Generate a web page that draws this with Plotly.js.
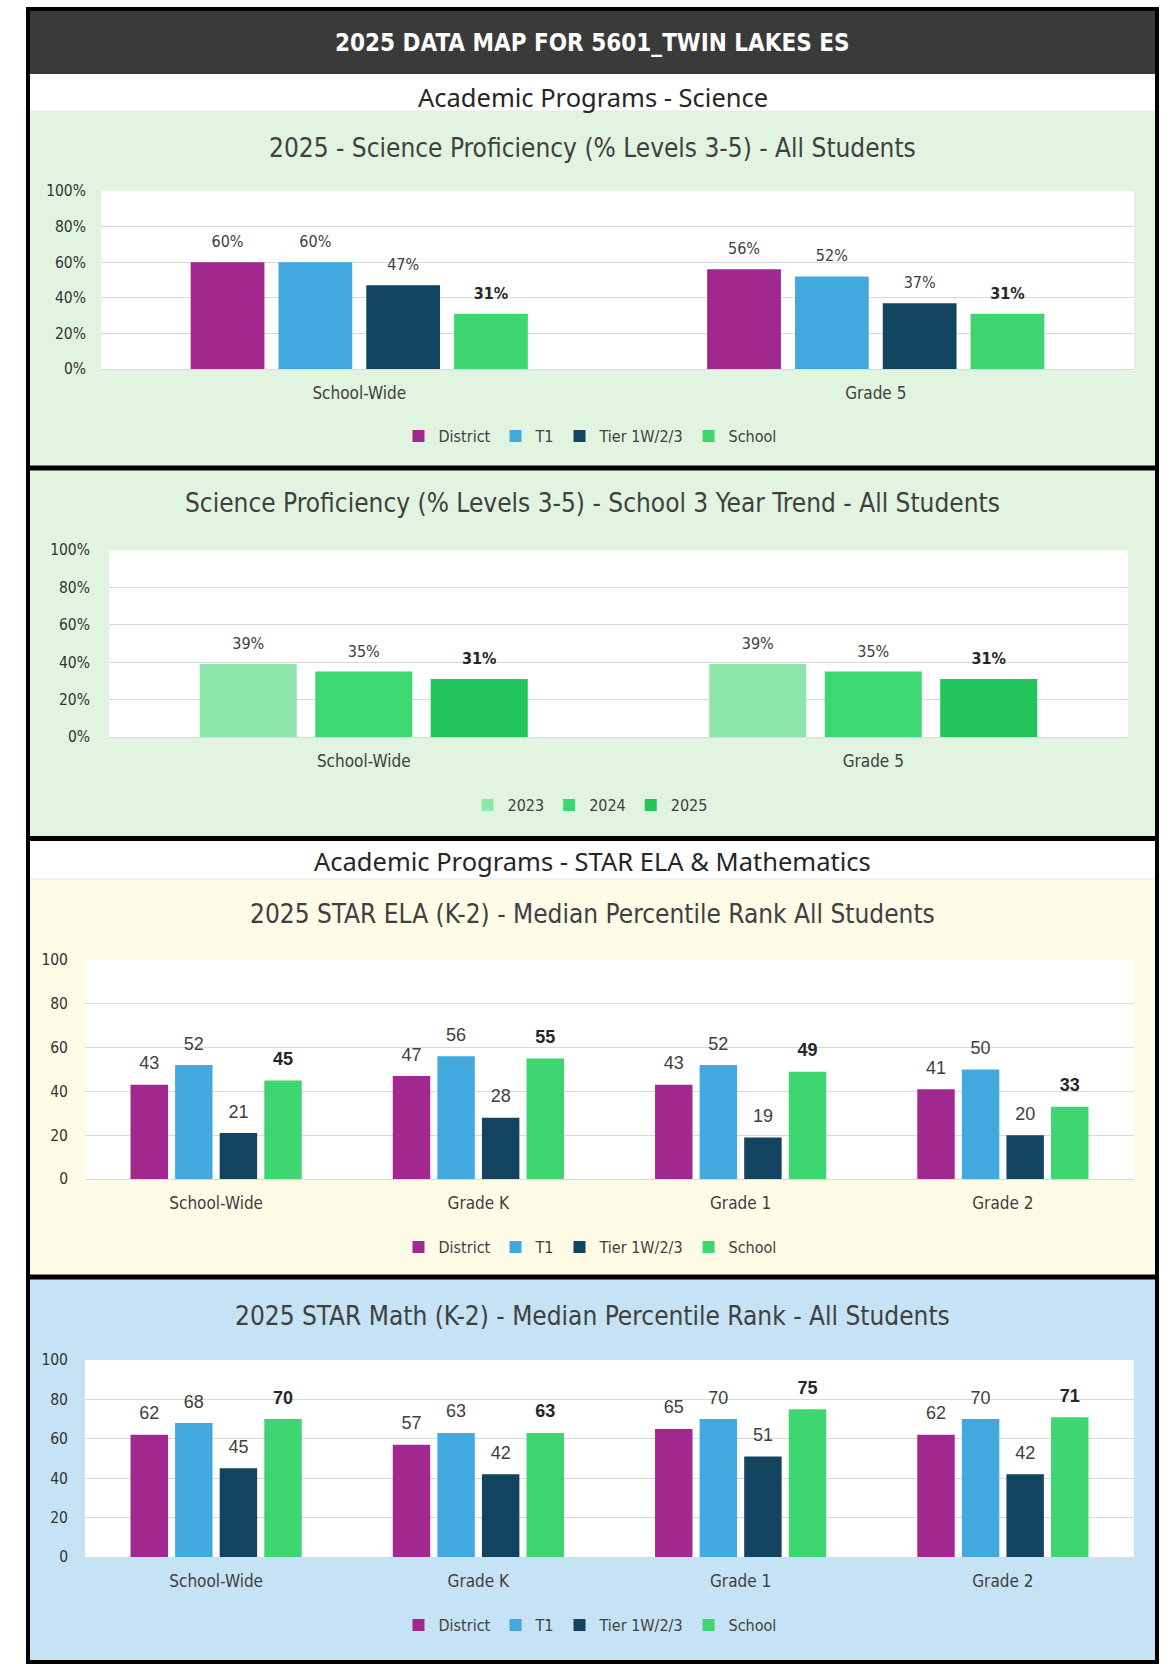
<!DOCTYPE html>
<html>
<head>
<meta charset="utf-8">
<script src="https://cdn.plot.ly/plotly-3.0.1.min.js"></script>
<style>
  html, body { margin: 0; padding: 0; background: #ffffff; }
  #chart { width: 1173px; height: 1664px; }
</style>
</head>
<body>
<div id="chart"></div>
<script>
// ---------------- DATA ----------------
const seriesNames = ['District', 'T1', 'Tier 1W/2/3', 'School'];
const yearNames = ['2023', '2024', '2025'];

const sciCategories = ['School-Wide', 'Grade 5'];
const sciDistrict = [60, 56];
const sciT1 = [60, 52];
const sciTier = [47, 37];
const sciSchool = [31, 31];

const trendCategories = ['School-Wide', 'Grade 5'];
const trend2023 = [39, 39];
const trend2024 = [35, 35];
const trend2025 = [31, 31];

const starCategories = ['School-Wide', 'Grade K', 'Grade 1', 'Grade 2'];
const elaDistrict = [43, 47, 43, 41];
const elaT1 = [52, 56, 52, 50];
const elaTier = [21, 28, 19, 20];
const elaSchool = [45, 55, 49, 33];

const mathDistrict = [62, 57, 65, 62];
const mathT1 = [68, 63, 70, 70];
const mathTier = [45, 42, 51, 42];
const mathSchool = [70, 63, 75, 71];

const tickValues = [0, 20, 40, 60, 80, 100];
const pctTickLabels = ['0%', '20%', '40%', '60%', '80%', '100%'];
const numTickLabels = ['0', '20', '40', '60', '80', '100'];

// ---------------- STYLE ----------------
const W = 1173, H = 1664;
const NARROW = '"Liberation Sans Narrow", "DejaVu Sans Condensed", "Arial Narrow", sans-serif';
const ARIAL = '"Liberation Sans", Arial, sans-serif';
const HEAD = '"Noto Sans", "Open Sans", sans-serif';
const seriesColors = ['#A0288F', '#41A9DD', '#13445F', '#3DD670'];
const yearColors = ['#8FE6AB', '#3ED872', '#22C55A'];
const TXT = '#404040';
const BAR_GAP = 0.32;

const px = x => x / W;
const py = y => 1 - y / H;

function axisIds(axisNum) {
  const s = axisNum === 1 ? '' : String(axisNum);
  return { xaxis: 'x' + s, yaxis: 'y' + s };
}

function barTrace(name, cats, vals, color, axisNum, legendId) {
  return Object.assign({
    type: 'bar', name: name, x: cats, y: vals, legend: legendId,
    marker: { color: color }, textposition: 'none', hoverinfo: 'x+y+name'
  }, axisIds(axisNum));
}

// value labels, grouped like the bars so they sit over each bar
function labelTrace(name, cats, vals, axisNum, pct, bold, fontFam, size) {
  return Object.assign({
    type: 'scatter', mode: 'markers+text', name: name + ' label', x: cats, y: vals,
    orientation: 'v', showlegend: false, hoverinfo: 'skip', cliponaxis: false,
    text: vals.map(v => pct ? v + '%' : String(v)),
    textposition: 'top center',
    marker: { size: 16, color: 'rgba(0,0,0,0)', line: { width: 0 } },
    textfont: { family: fontFam, size: size, color: bold ? '#262626' : '#404040', weight: bold ? 'bold' : 'normal' }
  }, axisIds(axisNum));
}

const traces = [];
const labels = [];
const sciVals = [sciDistrict, sciT1, sciTier, sciSchool];
seriesNames.forEach((n, i) => {
  traces.push(barTrace(n, sciCategories, sciVals[i], seriesColors[i], 1, 'legend'));
  labels.push(labelTrace(n, sciCategories, sciVals[i], 1, true, i === 3, NARROW, 16));
});
const trendVals = [trend2023, trend2024, trend2025];
yearNames.forEach((n, i) => {
  traces.push(barTrace(n, trendCategories, trendVals[i], yearColors[i], 2, 'legend2'));
  labels.push(labelTrace(n, trendCategories, trendVals[i], 2, true, i === 2, NARROW, 16));
});
const elaVals = [elaDistrict, elaT1, elaTier, elaSchool];
seriesNames.forEach((n, i) => {
  traces.push(barTrace(n, starCategories, elaVals[i], seriesColors[i], 3, 'legend3'));
  labels.push(labelTrace(n, starCategories, elaVals[i], 3, false, i === 3, ARIAL, 18));
});
const mathVals = [mathDistrict, mathT1, mathTier, mathSchool];
seriesNames.forEach((n, i) => {
  traces.push(barTrace(n, starCategories, mathVals[i], seriesColors[i], 4, 'legend4'));
  labels.push(labelTrace(n, starCategories, mathVals[i], 4, false, i === 3, ARIAL, 18));
});

function xAxis(x0, x1, anchor) {
  return {
    domain: [px(x0), px(x1)], anchor: anchor,
    type: 'category', showgrid: false, zeroline: false, showline: false,
    ticks: '', ticklabelstandoff: 12,
    tickfont: { family: NARROW, size: 17, color: TXT },
    fixedrange: true
  };
}
function yAxis(yTop, yBot, anchor, labelsArr, standoff) {
  return {
    domain: [py(yBot), py(yTop)], anchor: anchor,
    range: [0, 100], tickmode: 'array', tickvals: tickValues, ticktext: labelsArr,
    showgrid: true, gridcolor: '#D9D9D9', gridwidth: 1,
    zeroline: true, zerolinecolor: '#D9D9D9', zerolinewidth: 1,
    showline: false, ticks: '', ticklabelstandoff: standoff,
    tickfont: { family: NARROW, size: 15.5, color: '#333333' },
    fixedrange: true
  };
}

function rect(x0, y0, x1, y1, fill) {
  return { type: 'rect', xref: 'paper', yref: 'paper', x0: px(x0), x1: px(x1), y0: py(y1), y1: py(y0),
    fillcolor: fill, line: { width: 0 }, layer: 'below' };
}
function hline(y, w, color) {
  return { type: 'line', xref: 'paper', yref: 'paper', x0: px(28), x1: px(1157), y0: py(y), y1: py(y),
    line: { color: color || '#000000', width: w }, layer: 'above' };
}

const shapes = [
  rect(28, 9, 1157, 74, '#3A3A3A'),
  rect(28, 74, 1157, 111, '#FFFFFF'),
  rect(28, 111, 1157, 468, '#E0F4E0'),
  rect(28, 468, 1157, 838, '#E0F4E0'),
  rect(28, 838, 1157, 879, '#FFFFFF'),
  rect(28, 879, 1157, 1277, '#FEFCE6'),
  rect(28, 1277, 1157, 1662, '#C6E3F5'),
  // plot area backgrounds
  rect(101, 191, 1134, 369, '#FFFFFF'),
  rect(109, 550, 1128, 737, '#FFFFFF'),
  rect(85, 960, 1134, 1179, '#FFFFFF'),
  rect(85, 1360, 1134, 1557, '#FFFFFF'),
  hline(111, 1, '#E6E6E6'), hline(879, 1, '#E6E6E6'),
  hline(468, 5), hline(838.5, 5), hline(1277, 5),
  { type: 'rect', xref: 'paper', yref: 'paper', x0: px(28), x1: px(1157), y0: py(1662), y1: py(9),
    line: { color: '#000000', width: 4 }, fillcolor: 'rgba(0,0,0,0)', layer: 'above' }
];

function ann(text, x, y, size, fam, color, bold) {
  return { text: text, xref: 'paper', yref: 'paper', x: px(x), y: py(y), xanchor: 'center', yanchor: 'middle',
    showarrow: false, font: { family: fam, size: size, color: color, weight: bold ? 'bold' : 'normal' } };
}
const CX = 592.5;
const annotations = [
  ann('2025 DATA MAP FOR 5601_TWIN LAKES ES', CX, 43, 24, NARROW, '#FFFFFF', true),
  ann('Academic Programs - Science', CX, 97, 25.5, HEAD, '#262626', false),
  ann('2025 - Science Proficiency (% Levels 3-5) - All Students', CX, 148, 26, NARROW, TXT, false),
  ann('Science Proficiency (% Levels 3-5) - School 3 Year Trend - All Students', CX, 503, 26, NARROW, TXT, false),
  ann('Academic Programs - STAR ELA &amp; Mathematics', CX, 861, 25.5, HEAD, '#262626', false),
  ann('2025 STAR ELA (K-2) - Median Percentile Rank All Students', CX, 914, 26, NARROW, TXT, false),
  ann('2025 STAR Math (K-2) - Median Percentile Rank - All Students', CX, 1316, 26, NARROW, TXT, false)
];

function legendAt(y) {
  return { orientation: 'h', x: px(590), xanchor: 'center', y: py(y), yanchor: 'middle',
    bgcolor: 'rgba(0,0,0,0)', font: { family: NARROW, size: 16, color: TXT },
    itemwidth: 30, itemclick: false, itemdoubleclick: false, traceorder: 'normal' };
}

const layout = {
  width: W, height: H, autosize: false,
  margin: { l: 0, r: 0, t: 0, b: 0, pad: 0 },
  paper_bgcolor: '#FFFFFF', plot_bgcolor: 'rgba(0,0,0,0)',
  barmode: 'group', bargap: BAR_GAP, bargroupgap: 0.16,
  scattermode: 'group', scattergap: BAR_GAP,
  showlegend: true,
  xaxis: xAxis(101, 1134, 'y'), yaxis: yAxis(191, 369, 'x', pctTickLabels, 14),
  xaxis2: xAxis(109, 1128, 'y2'), yaxis2: yAxis(550, 737, 'x2', pctTickLabels, 18),
  xaxis3: xAxis(85, 1134, 'y3'), yaxis3: yAxis(960, 1179, 'x3', numTickLabels, 16),
  xaxis4: xAxis(85, 1134, 'y4'), yaxis4: yAxis(1360, 1557, 'x4', numTickLabels, 16),
  legend: legendAt(436),
  legend2: legendAt(805),
  legend3: legendAt(1247),
  legend4: legendAt(1625),
  shapes: shapes,
  annotations: annotations
};

Plotly.newPlot('chart', traces.concat(labels), layout, { displayModeBar: false, responsive: false });
</script>
</body>
</html>
